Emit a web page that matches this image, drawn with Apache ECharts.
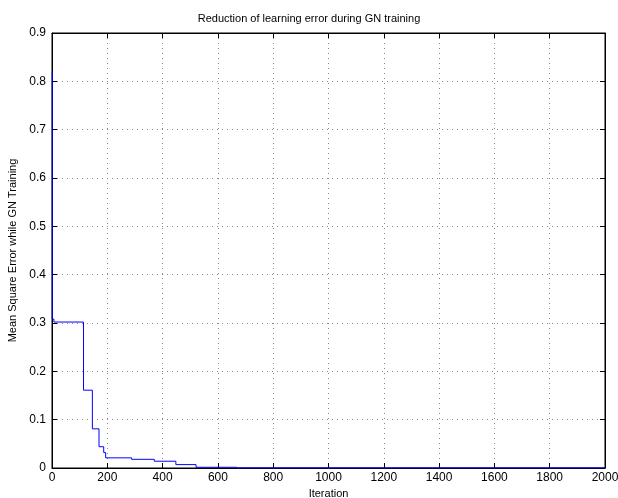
<!DOCTYPE html>
<html>
<head>
<meta charset="utf-8">
<script src="https://cdn.jsdelivr.net/npm/echarts@6/dist/echarts.min.js"></script>
<style>
  html, body { margin: 0; padding: 0; background: #fff; }
  #chart { width: 618px; height: 498px; }
</style>
</head>
<body>
<div id="chart"></div>
<script>
// Iteration where each error level starts (held until the next one)
var iterations = [0, 1, 7, 114, 146, 170, 187, 194, 288, 370, 448, 521, 668, 2000];
var mseValues = [0.82, 0.308, 0.302, 0.161, 0.081, 0.044, 0.032, 0.021, 0.018, 0.014, 0.007, 0.0015, 0.0003, 0.0003];

var xTicks = [0, 200, 400, 600, 800, 1000, 1200, 1400, 1600, 1800, 2000];
var yTicks = [0, 0.1, 0.2, 0.3, 0.4, 0.5, 0.6, 0.7, 0.8, 0.9];

var font = 'Liberation Sans, Arial, sans-serif';
var chart = echarts.init(document.getElementById('chart'));

var dotted = {show: true, lineStyle: {color: '#888', type: [1, 4], width: 1}};
var axisLine = {show: true, onZero: false, lineStyle: {color: '#000', width: 1}};
var tick = {show: true, inside: true, length: 5, lineStyle: {color: '#000'}};

// staircase drawn piece by piece so tiny drops are not dropped by the line simplifier
function renderStep(params, api) {
  var i = params.dataIndex;
  if (i >= iterations.length - 1) return null;
  var p0 = api.coord([iterations[i], mseValues[i]]);
  var p1 = api.coord([iterations[i + 1], mseValues[i]]);
  var p2 = api.coord([iterations[i + 1], mseValues[i + 1]]);
  return {
    type: 'polyline',
    shape: {points: [p0, p1, p2]},
    style: {stroke: '#0000ff', lineWidth: 1, fill: null}
  };
}

chart.setOption({
  animation: false,
  backgroundColor: '#fff',
  title: {
    text: 'Reduction of learning error during GN training',
    left: 'center',
    top: 8,
    textStyle: {fontFamily: font, fontSize: 11, fontWeight: 'normal', color: '#000'}
  },
  grid: {left: 52, right: 13, top: 33, bottom: 30, outerBoundsMode: 'none',
    containLabel: false, show: true, borderColor: '#000', borderWidth: 1},
  xAxis: [{
    type: 'value', min: 0, max: 2000, interval: 200,
    axisLine: axisLine, axisTick: tick, splitLine: dotted,
    axisLabel: {fontFamily: font, fontSize: 12, color: '#000', margin: 4,
      formatter: function (v) { return xTicks.indexOf(v) >= 0 ? String(v) : ''; }},
    name: 'Iteration', nameLocation: 'middle', nameGap: 20,
    nameTextStyle: {fontFamily: font, fontSize: 11, color: '#000'}
  }, {
    type: 'value', position: 'top', min: 0, max: 2000, interval: 200,
    axisLine: axisLine, axisTick: tick, splitLine: {show: false}, axisLabel: {show: false}
  }],
  yAxis: [{
    type: 'value', min: 0, max: 0.9, interval: 0.1,
    axisLine: axisLine, axisTick: tick, splitLine: dotted,
    axisLabel: {fontFamily: font, fontSize: 12, color: '#000', margin: 6,
      formatter: function (v) {
        var r = Math.round(v * 10) / 10;
        return yTicks.indexOf(r) >= 0 ? String(r) : '';
      }},
    name: 'Mean Square Error while GN Training', nameLocation: 'middle', nameGap: 30,
    nameTextStyle: {fontFamily: font, fontSize: 11, color: '#000'}
  }, {
    type: 'value', position: 'right', min: 0, max: 0.9, interval: 0.1,
    axisLine: axisLine, axisTick: tick, splitLine: {show: false}, axisLabel: {show: false}
  }],
  series: [{
    type: 'custom',
    renderItem: renderStep,
    clip: false,
    z: 10,
    encode: {x: 0, y: 1},
    data: iterations.map(function (x, i) { return [x, mseValues[i]]; })
  }]
});
</script>
</body>
</html>
